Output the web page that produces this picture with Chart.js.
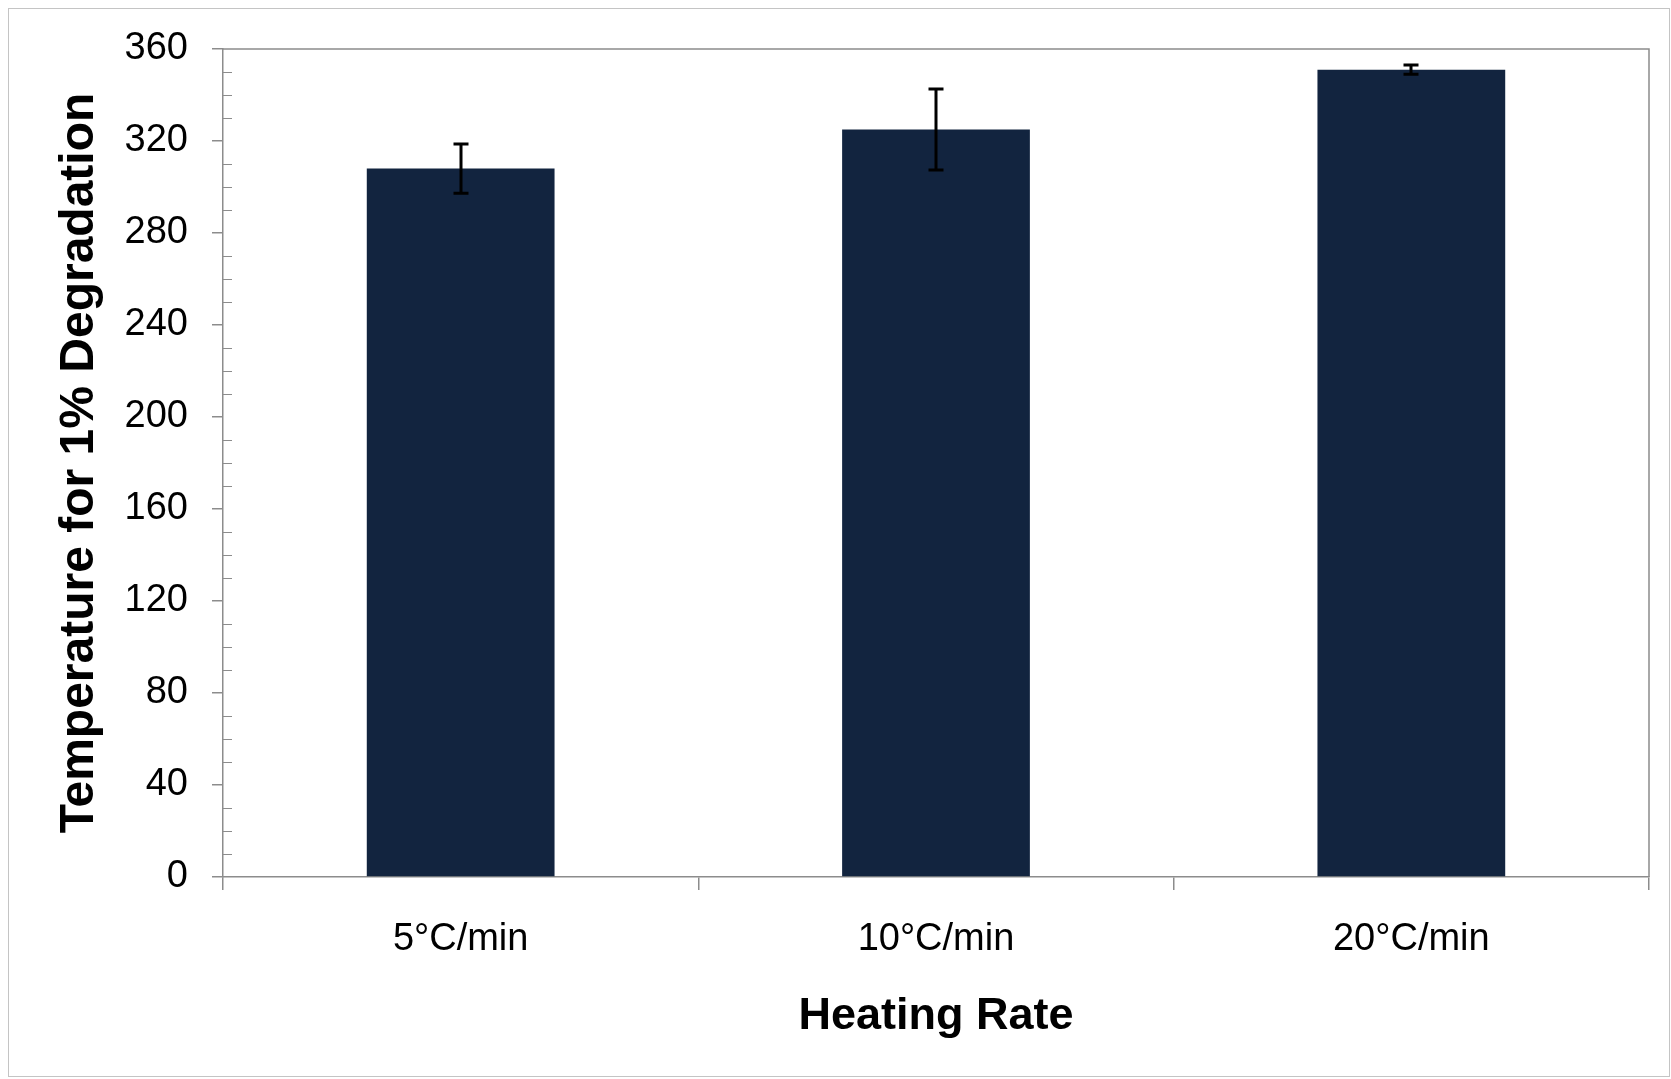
<!DOCTYPE html>
<html>
<head>
<meta charset="utf-8">
<script src="https://cdn.jsdelivr.net/npm/chart.js@4/dist/chart.umd.min.js"></script>
<style>
  html, body { margin: 0; padding: 0; background: #fff; }
  #wrap { position: relative; width: 1671px; height: 1079px; }
</style>
</head>
<body>
<div id="wrap"><canvas id="chartTemp"></canvas></div>
<script>
// data
const categories = ['5°C/min', '10°C/min', '20°C/min'];
const tempValues = [308, 325, 351];
const tempErrors = [10.7, 17.6, 2];
const yTicks = [0, 40, 80, 120, 160, 200, 240, 280, 320, 360];

const AXIS_GREY = '#8c8c8c';
const FONT = '"Liberation Sans", Arial, sans-serif';

// outer frame + plot box + minor ticks + error bars
const decorations = {
    id: 'decorations',
    beforeDraw(chart) {
        const ctx = chart.ctx;
        ctx.save();
        ctx.strokeStyle = '#c4c4c4';
        ctx.lineWidth = 1;
        ctx.strokeRect(8.5, 8.5, 1661, 1068);
        ctx.restore();
    },
    afterDatasetsDraw(chart) {
        const ctx = chart.ctx;
        const area = chart.chartArea;
        const yScale = chart.scales.y;

        ctx.save();
        // top and right edges of the plot box
        ctx.strokeStyle = AXIS_GREY;
        ctx.lineWidth = 1.5;
        ctx.beginPath();
        ctx.moveTo(area.left, area.top);
        ctx.lineTo(area.right, area.top);
        ctx.lineTo(area.right, area.bottom);
        ctx.stroke();

        // minor ticks every 10, pointing inward
        ctx.lineWidth = 1.2;
        ctx.beginPath();
        for (let v = 10; v < 360; v += 10) {
            if (v % 40 === 0) continue;
            const y = Math.round(yScale.getPixelForValue(v)) + 0.5;
            ctx.moveTo(area.left, y);
            ctx.lineTo(area.left + 9, y);
        }
        ctx.stroke();

        // error bars
        const meta = chart.getDatasetMeta(0);
        ctx.strokeStyle = '#000';
        ctx.lineWidth = 3;
        meta.data.forEach((bar, i) => {
            const x = Math.round(bar.x);
            const yHi = yScale.getPixelForValue(tempValues[i] + tempErrors[i]);
            const yLo = yScale.getPixelForValue(tempValues[i] - tempErrors[i]);
            ctx.beginPath();
            ctx.moveTo(x, yHi);
            ctx.lineTo(x, yLo);
            ctx.moveTo(x - 7.5, yHi);
            ctx.lineTo(x + 7.5, yHi);
            ctx.moveTo(x - 7.5, yLo);
            ctx.lineTo(x + 7.5, yLo);
            ctx.stroke();
        });
        ctx.restore();
    }
};

new Chart(document.getElementById('chartTemp'), {
    type: 'bar',
    data: {
        labels: categories,
        datasets: [{
            data: tempValues,
            backgroundColor: '#12243f',
            borderWidth: 0,
            barPercentage: 0.395,
            categoryPercentage: 1
        }]
    },
    options: {
        responsive: true,
        maintainAspectRatio: false,
        animation: false,
        layout: { padding: { top: 49, right: 22, left: 0, bottom: 0 } },
        plugins: { legend: { display: false }, tooltip: { enabled: false } },
        scales: {
            x: {
                afterFit: s => { s.height = 202; },
                grid: {
                    offset: true,
                    drawOnChartArea: false,
                    drawTicks: true,
                    tickLength: 13,
                    color: AXIS_GREY,
                    lineWidth: 1.5
                },
                border: { display: true, color: AXIS_GREY, width: 1.5 },
                ticks: {
                    color: '#000',
                    padding: 27,
                    font: { family: FONT, size: 38 }
                },
                title: {
                    display: true,
                    text: 'Heating Rate',
                    color: '#000',
                    font: { family: FONT, size: 45, weight: 'bold' },
                    padding: { top: 0, bottom: 35 }
                }
            },
            y: {
                min: 0,
                max: 360,
                afterFit: s => { s.width = 223; },
                afterBuildTicks: s => { s.ticks = yTicks.map(v => ({ value: v })); },
                grid: {
                    drawOnChartArea: false,
                    drawTicks: true,
                    tickLength: 11,
                    color: AXIS_GREY,
                    lineWidth: 1.5
                },
                border: { display: true, color: AXIS_GREY, width: 1.5 },
                ticks: {
                    color: '#000',
                    padding: 24,
                    font: { family: FONT, size: 38 }
                },
                title: {
                    display: true,
                    text: 'Temperature for 1% Degradation',
                    color: '#000',
                    font: { family: FONT, size: 48, weight: 'bold' },
                    padding: { top: 51, bottom: 0 }
                }
            }
        }
    },
    plugins: [decorations]
});
</script>
</body>
</html>
